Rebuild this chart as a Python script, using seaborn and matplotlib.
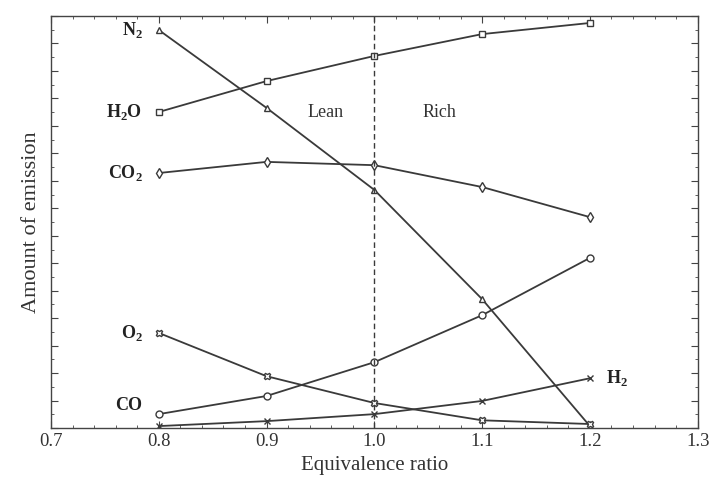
import matplotlib
matplotlib.use("Agg")
import matplotlib.pyplot as plt
import seaborn as sns
import numpy as np
import pandas as pd

phi = [0.8, 0.9, 1.0, 1.1, 1.2]
n2 = [96.6, 77.7, 57.8, 31.3, 0.5]
h2o = [76.7, 84.2, 90.3, 95.6, 98.3]
co2 = [61.9, 64.6, 63.8, 58.5, 51.2]
o2 = [23.1, 12.6, 6.1, 1.9, 1.0]
co = [3.4, 7.8, 16.0, 27.4, 41.3]
h2 = [0.5, 1.7, 3.4, 6.6, 12.1]
xticks = [0.7, 0.8, 0.9, 1.0, 1.1, 1.2, 1.3]

sns.set_style("ticks")
plt.rcParams['font.family'] = ['Liberation Serif', 'DejaVu Serif']
plt.rcParams['mathtext.fontset'] = 'custom'
plt.rcParams['mathtext.rm'] = 'Liberation Serif'
plt.rcParams['mathtext.bf'] = 'Liberation Serif:bold'

fig = plt.figure(figsize=(7.13, 4.99), dpi=100)
ax = fig.add_axes([0.0715, 0.142, 0.907, 0.826])

lc = "#3a3a3a"
series = [
    (n2, "^"), (h2o, "s"), (co2, "d"), (o2, "X"), (co, "o"), (h2, "x"),
]
for vals, mk in series:
    df = pd.DataFrame({"phi": phi, "v": vals})
    sns.lineplot(data=df, x="phi", y="v", ax=ax, color=lc, lw=1.3,
                 marker=mk, markersize=5, markerfacecolor="white",
                 markeredgecolor=lc, markeredgewidth=1.0)

ax.axvline(1.0, color=lc, lw=1.0, ls=(0, (4, 2.5)))

ax.set_xlim(0.7, 1.3)
ax.set_ylim(0, 100)
ax.set_xticks(xticks)
ax.set_xticklabels([f"{t:.1f}" for t in xticks])
ax.set_xticks(np.arange(0.7, 1.3001, 0.02), minor=True)
ax.set_yticks(np.linspace(0, 100, 16))
ax.set_yticks(np.linspace(0, 100, 31), minor=True)
ax.set_yticklabels([])
ax.tick_params(which="both", direction="in", top=True, right=True, color="#444")
ax.tick_params(which="major", length=5, labelsize=13.5, labelcolor="#333")
ax.tick_params(which="minor", length=2.5)
for s in ax.spines.values():
    s.set_color("#444")
    s.set_linewidth(1.0)

ax.set_xlabel("Equivalence ratio", fontsize=15, color="#333")
ax.set_ylabel("Amount of emission", fontsize=16, color="#333")

tk = dict(fontsize=13, color="#222", fontweight="bold", va="center")
ax.text(0.785, n2[0], r"N$_\mathbf{2}$", ha="right", **tk)
ax.text(0.785, h2o[0], r"H$_\mathbf{2}$O", ha="right", **tk)
ax.text(0.785, co2[0], r"CO$_\mathbf{2}$", ha="right", **tk)
ax.text(0.785, o2[0], r"O$_\mathbf{2}$", ha="right", **tk)
ax.text(0.785, 5.6, "CO", ha="right", **tk)
ax.text(1.215, h2[-1], r"H$_\mathbf{2}$", ha="left", **tk)
ax.text(0.955, 76.5, "Lean", fontsize=13, color="#333", ha="center", va="center")
ax.text(1.06, 76.5, "Rich", fontsize=13, color="#333", ha="center", va="center")

fig.savefig("out.png", dpi=100)
